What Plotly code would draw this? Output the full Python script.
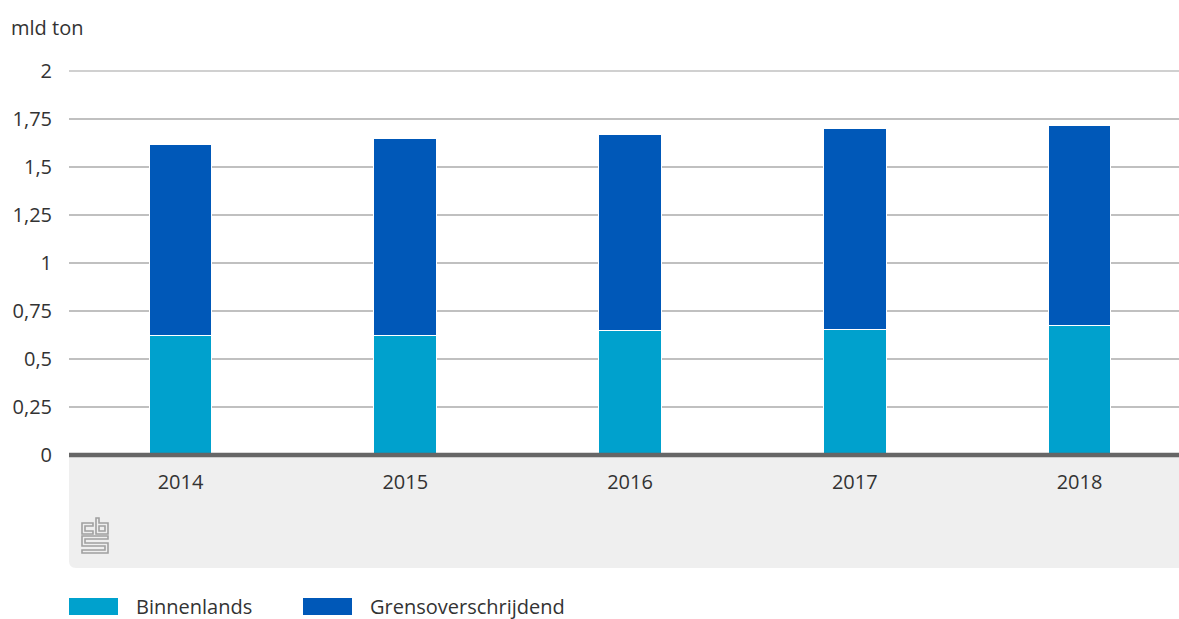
import plotly.graph_objects as go

years = ["2014", "2015", "2016", "2017", "2018"]
binnenlands = [0.625, 0.625, 0.647, 0.653, 0.677]
totaal = [1.615, 1.649, 1.667, 1.698, 1.714]
grensoverschrijdend = [round(t - b, 3) for t, b in zip(totaal, binnenlands)]
tick_vals = [0, 0.25, 0.5, 0.75, 1, 1.25, 1.5, 1.75, 2]
tick_text = ["0", "0,25", "0,5", "0,75", "1", "1,25", "1,5", "1,75", "2"]
series_names = ["Binnenlands", "Grensoverschrijdend"]
colors = ["#00a1cd", "#0058b8"]

W, H = 1179, 619
L, R, T, B = 69, 0, 71, 164
PW, PH = W - L - R, H - T - B
FONT = "Open Sans"
TXT = "#333333"
FS = 20


def px(x):
    return (x - L) / PW


def py(y):
    return (H - B - y) / PH


fig = go.Figure()
for name, vals, col in zip(series_names, [binnenlands, grensoverschrijdend], colors):
    fig.add_trace(go.Bar(
        x=years, y=vals, name=name, marker_color=col, width=0.28,
        marker_line_color="white", marker_line_width=1,
        showlegend=False, hoverinfo="x+y+name",
    ))

shapes = []
# grey band under the axis with rounded bottom-left corner
r = 7
x0, x1 = px(L), px(W)
yt, yb = py(456), py(568)
shapes.append(dict(
    type="path", xref="paper", yref="paper", layer="below",
    path=(f"M{x0},{yt} L{x1},{yt} L{x1},{yb} L{px(L + r)},{yb} "
          f"Q{x0},{yb} {x0},{py(568 - r)} Z"),
    fillcolor="#efefef", line_width=0,
))
# top gridline (at range edge)
shapes.append(dict(type="line", xref="paper", yref="paper", x0=0, x1=1, y0=1, y1=1,
                   line=dict(color="#c0c0c0", width=1.5), layer="below"))
# axis line (paper-referenced so it is not clipped)
shapes.append(dict(type="line", xref="paper", yref="paper", x0=0, x1=1, y0=0, y1=0,
                   line=dict(color="#666666", width=4.5), layer="above"))

# CBS logo (outline strokes)
lx, ly = 82, 518
logo_paths = [
    [(11, 5), (0, 5), (0, 16), (11, 16), (11, 13), (3, 13), (3, 8), (11, 8)],
    [(14, 0), (17, 0), (17, 5), (26, 5), (26, 16), (14, 16)],
    [(17, 8), (23, 8), (23, 13), (17, 13)],
    [(0, 18), (26, 18), (26, 21), (3, 21), (3, 25), (26, 25), (26, 35), (0, 35),
     (0, 32), (23, 32), (23, 28), (0, 28)],
]
for pts in logo_paths:
    d = " ".join(("M" if i == 0 else "L") + f"{px(lx + a)},{py(ly + b)}" for i, (a, b) in enumerate(pts)) + " Z"
    shapes.append(dict(type="path", xref="paper", yref="paper", path=d,
                       line=dict(color="#a0a0a0", width=1.6), fillcolor="rgba(0,0,0,0)"))

# legend swatches
annotations = []
legend_items = [(69, 118, 137), (303, 352, 371)]
for (sx0, sx1, tx), name, col in zip(legend_items, series_names, colors):
    shapes.append(dict(type="rect", xref="paper", yref="paper",
                       x0=px(sx0), x1=px(sx1), y0=py(598), y1=py(615),
                       fillcolor=col, line_width=0))
    annotations.append(dict(text=name, xref="paper", yref="paper", x=px(tx - 3), y=py(606),
                            xanchor="left", yanchor="middle", showarrow=False,
                            font=dict(family=FONT, size=FS, color=TXT)))

annotations.append(dict(text="mld ton", xref="paper", yref="paper", x=px(9), y=py(28),
                        xanchor="left", yanchor="middle", showarrow=False,
                        font=dict(family=FONT, size=FS, color=TXT)))

# category axis: first category centred at x=180.5 px, spacing 224.75 px
c0, step = 180.5, 224.75
x_range = [(L - c0) / step, (W - R - c0) / step]

fig.update_layout(
    width=W, height=H,
    margin=dict(l=L, r=R, t=T, b=B),
    barmode="stack",
    plot_bgcolor="white", paper_bgcolor="white",
    font=dict(family=FONT, size=FS, color=TXT),
    shapes=shapes, annotations=annotations,
    xaxis=dict(type="category", range=x_range,
               showgrid=False, showline=False, zeroline=False,
               ticks="outside", ticklen=9, tickcolor="rgba(0,0,0,0)",
               tickfont=dict(family=FONT, size=FS, color=TXT)),
    yaxis=dict(range=[0, 2], tickvals=tick_vals, ticktext=tick_text,
               showgrid=True, gridcolor="#c0c0c0", gridwidth=1.5,
               zeroline=False, showline=False,
               ticks="outside", ticklen=12, tickcolor="rgba(0,0,0,0)",
               tickfont=dict(family=FONT, size=FS, color=TXT)),
)

fig.write_html("out.html", config={"displayModeBar": False},
               post_script="document.body.style.margin='0';document.body.style.padding='0';document.body.style.overflow='hidden';")
